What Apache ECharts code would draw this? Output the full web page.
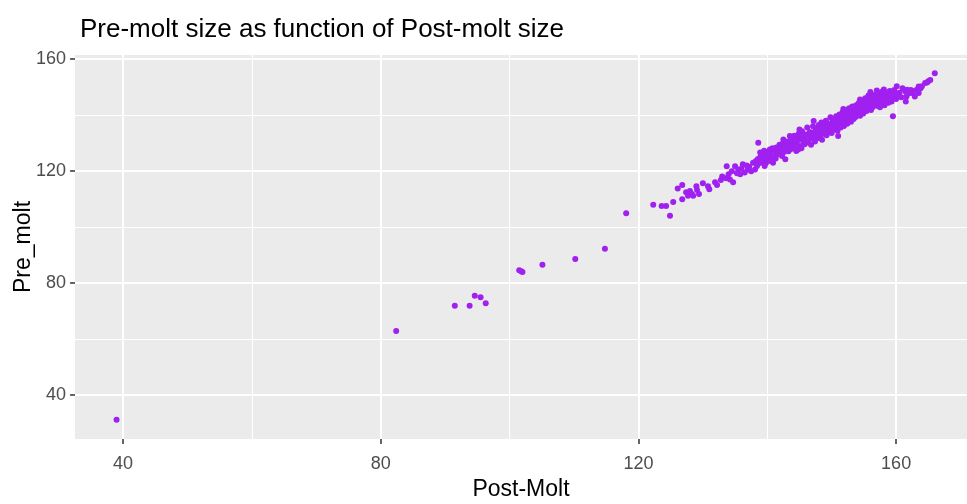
<!DOCTYPE html>
<html>
<head>
<meta charset="utf-8">
<script src="https://cdn.jsdelivr.net/npm/echarts@6/dist/echarts.min.js"></script>
<style>html,body{margin:0;padding:0;background:#fff;}#c{width:967px;height:504px;}</style>
</head>
<body>
<div id="c"></div>
<script>
// ---- data ----
const titleText = 'Pre-molt size as function of Post-molt size';
const xName = 'Post-Molt';
const yName = 'Pre_molt';
const xTicks = [40, 80, 120, 160];
const yTicks = [40, 80, 120, 160];
const xMinor = [60, 100, 140];
const yMinor = [60, 100, 140];

const postMolt = [
39.0,82.4,91.5,93.8,94.6,95.5,96.3,101.5,101.8,102.0,105.1,110.2,114.8,118.1,
122.3,123.6,124.3,124.9,125.4,126.1,126.8,126.8,127.4,127.7,128.3,128.0,128.5,129.1,129.4,129.0,130.0,131.0,130.8,131.9,132.2,
133.0,133.6,134.0,133.7,134.5,134.7,135.0,135.5,135.8,136.2,136.5,137.0,137.5,132.8,134.2,135.3,136.0,136.8,137.2,137.8,
138.1,138.4,138.5,138.9,138.6,139.4,139.6,139.9,140.2,140.4,140.7,140.9,141.2,141.5,142.0,142.3,142.5,142.8,143.0,143.3,143.5,143.8,144.0,144.3,144.6,144.8,145.1,
138.2,138.7,138.9,139.1,139.2,139.5,139.7,139.8,140.0,140.1,140.3,140.5,140.6,140.8,141.0,141.1,141.3,141.4,141.6,141.7,141.9,142.1,142.2,142.4,142.6,142.7,142.9,143.1,143.2,143.4,
143.6,143.7,143.9,144.1,144.2,144.4,144.5,144.7,144.9,145.0,145.2,145.3,145.4,145.6,145.7,145.8,146.0,146.1,146.2,146.4,146.5,146.6,146.8,146.9,147.0,147.1,147.3,147.4,147.5,147.6,147.8,147.9,148.0,148.0,148.2,148.3,148.4,148.5,148.6,148.7,
148.9,149.0,149.1,149.2,149.3,149.4,149.5,149.6,149.7,149.8,149.9,150.0,150.1,150.2,150.3,150.4,150.5,150.6,150.7,150.8,150.9,151.0,151.1,151.2,151.3,151.4,151.5,151.6,151.7,151.8,151.9,152.0,152.1,152.2,152.3,152.4,152.5,152.6,152.7,152.8,152.9,153.0,153.0,153.1,153.2,
153.3,153.4,153.5,153.6,153.7,153.8,153.9,154.0,154.1,154.2,154.3,154.4,154.5,154.6,154.7,154.8,154.9,155.0,155.1,155.2,155.3,155.4,155.5,155.6,155.7,155.8,155.9,156.0,156.0,156.1,156.2,156.3,156.4,156.5,156.6,156.7,156.8,156.9,157.0,157.1,157.2,157.3,157.4,157.5,157.5,
158.3,158.5,158.8,160.1,159.8,159.6,159.3,159.5,157.7,157.8,157.9,158.0,158.1,158.2,158.6,158.9,159.0,159.1,159.4,159.7,160.0,160.2,
161.4,161.6,161.5,164.5,164.0,163.2,162.7,166.0,160.5,160.8,161.0,162.0,162.3,163.5,163.8,165.0,165.3,
162.9,163.5,164.8,162.5,161.7,158.1,151.0,147.2,145.0,151.8,154.4
];
const preMolt = [
31.1,62.8,71.8,71.8,75.4,74.9,72.7,84.5,84.2,83.9,86.5,88.6,92.2,104.9,
108.0,107.5,107.5,104.0,108.9,113.8,115.0,109.9,112.4,111.2,111.8,112.9,111.2,113.2,111.8,114.6,115.6,113.5,114.6,116.0,115.0,
118.1,117.4,118.9,121.7,119.9,116.0,121.7,120.6,118.9,122.4,119.5,120.6,119.9,116.8,117.0,119.2,120.8,122.0,121.5,123.0,
120.6,121.8,124.2,126.6,130.1,124.2,121.8,125.4,127.1,127.7,124.2,123.0,125.4,126.6,128.9,125.4,131.3,124.2,128.9,127.1,132.5,129.5,130.1,131.3,131.9,127.7,132.5,
123.5,122.8,124.9,123.1,126.0,127.3,124.6,122.9,126.2,124.0,125.8,123.6,126.9,128.2,125.0,127.6,124.5,128.4,125.9,127.0,129.4,126.3,127.8,129.9,126.8,128.3,130.6,127.6,130.0,128.6,
131.0,127.9,130.8,128.4,132.6,129.7,127.2,130.9,133.4,129.0,131.5,128.2,134.2,130.4,132.3,129.6,133.1,131.0,135.6,130.2,132.8,134.0,129.4,131.7,133.6,136.0,132.1,130.6,134.7,133.0,135.2,131.8,136.5,133.9,132.5,134.6,137.4,131.2,135.8,133.3,
136.2,134.0,138.0,132.8,135.1,137.0,133.9,136.6,134.7,139.2,135.8,133.6,137.5,136.0,134.9,138.6,136.8,135.3,139.6,137.2,134.4,138.1,136.4,140.2,137.7,135.6,139.0,137.0,141.0,138.4,136.1,139.7,137.9,141.8,138.9,136.9,140.4,139.1,142.5,138.0,140.9,139.4,137.6,141.6,143.1,
140.0,138.6,142.2,140.7,139.3,143.5,141.4,140.1,142.8,144.3,141.0,139.8,143.0,141.9,145.0,142.5,140.6,144.1,142.0,146.0,143.4,141.5,144.8,143.0,147.0,142.3,145.5,148.3,143.9,141.8,146.2,144.6,142.9,147.2,145.3,143.6,146.8,144.2,148.8,145.9,143.3,146.5,144.9,147.6,142.8,
147.9,145.5,144.4,150.3,147.9,146.1,144.9,139.6,145.6,148.4,144.0,146.7,149.2,143.5,147.0,146.2,148.6,145.3,147.4,149.0,145.8,147.3,
148.5,146.7,144.9,151.5,150.3,149.1,148.5,155.0,148.0,146.4,149.6,147.8,149.0,150.2,149.6,152.1,152.6,
146.7,147.9,151.7,147.9,149.1,147.3,132.5,137.9,134.9,142.2,145.6
];

// ---- font choice ----
function hasFont(name){
  const c = document.createElement('canvas').getContext('2d');
  const s = 'Pre-molt size as function 0123';
  c.font = '30px monospace'; const w0 = c.measureText(s).width;
  c.font = '30px "' + name + '", monospace'; const w1 = c.measureText(s).width;
  return Math.abs(w0 - w1) > 0.5;
}
const narrow = hasFont('Liberation Sans Narrow');
const FF = narrow ? '"Liberation Sans Narrow", "Liberation Sans", Arial, sans-serif' : '"Liberation Sans", Arial, sans-serif';
const FS = narrow ? {title: 31, tick: 20, axis: 26} : {title: 26, tick: 18, axis: 23};

const points = postMolt.map((x, i) => [x, preMolt[i]]);

const gridLines = [];
xMinor.forEach(v => gridLines.push({xAxis: v, lineStyle: {width: 1}}));
yMinor.forEach(v => gridLines.push({yAxis: v, lineStyle: {width: 1}}));
xTicks.forEach(v => gridLines.push({xAxis: v, lineStyle: {width: 2}}));
yTicks.forEach(v => gridLines.push({yAxis: v, lineStyle: {width: 2}}));

const chart = echarts.init(document.getElementById('c'), null, {renderer: 'canvas'});
chart.setOption({
  animation: false,
  backgroundColor: '#ffffff',
  title: {
    text: titleText, left: 75, top: 12,
    textStyle: {fontFamily: FF, fontSize: FS.title, fontWeight: 'normal', color: '#000000'}
  },
  grid: {left: 75, right: 0, top: 55, bottom: 65, show: true, backgroundColor: '#EBEBEB', borderWidth: 0,
         containLabel: false, outerBoundsMode: 'none'},
  xAxis: {
    type: 'value', min: 32.55, max: 171.0,
    name: xName, nameLocation: 'middle', nameGap: 39, nameMoveOverlap: false,
    nameTextStyle: {fontFamily: FF, fontSize: FS.axis, color: '#000000'},
    axisLine: {show: false},
    axisTick: {show: true, length: 5, lineStyle: {color: '#333333', width: 1.5}, customValues: xTicks},
    axisLabel: {margin: 16, fontFamily: FF, fontSize: FS.tick, color: '#4D4D4D', customValues: xTicks},
    splitLine: {show: false}
  },
  yAxis: {
    type: 'value', min: 24.2, max: 161.5,
    name: yName, nameLocation: 'middle', nameGap: 40, nameRotate: 90, nameMoveOverlap: false,
    nameTextStyle: {fontFamily: FF, fontSize: FS.axis, color: '#000000'},
    axisLine: {show: false},
    axisTick: {show: true, length: 5, lineStyle: {color: '#333333', width: 1.5}, customValues: yTicks},
    axisLabel: {margin: 9, fontFamily: FF, fontSize: FS.tick, color: '#4D4D4D', customValues: yTicks},
    splitLine: {show: false}
  },
  series: [
    {
      type: 'scatter', data: [], z: 1, silent: true,
      markLine: {
        silent: true, symbol: 'none', z: 1, animation: false,
        label: {show: false},
        lineStyle: {color: '#FFFFFF', type: 'solid'},
        emphasis: {disabled: true},
        data: gridLines
      }
    },
    {
      type: 'scatter', data: points, z: 3,
      symbol: 'circle', symbolSize: 6,
      itemStyle: {color: '#A020F0', opacity: 1}
    }
  ]
});
</script>
</body>
</html>
